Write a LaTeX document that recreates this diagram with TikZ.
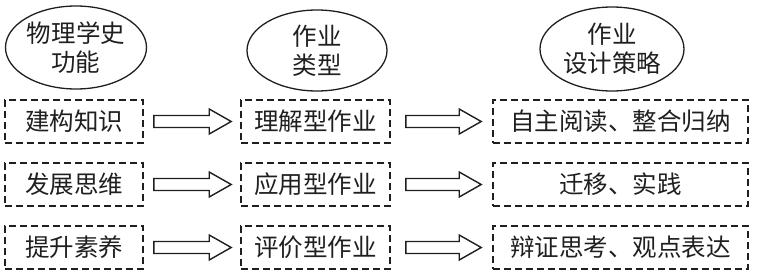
\documentclass[tikz,border=0pt]{standalone}
\usepackage{fontspec}
\newfontfamily\cjk{Noto Sans CJK SC}
\usetikzlibrary{shapes.geometric,calc}
\definecolor{ink}{gray}{0.12}
\tikzset{
  base/.style={font=\cjk\fontsize{24.5}{29}\selectfont, text=ink, inner sep=0pt},
  oval/.style={base, ellipse, draw=ink, line width=1.3pt, align=center},
  dbox/.style={base, draw=ink, line width=1.6pt, dash pattern=on 7pt off 4pt, minimum height=43pt},
  hollow/.style={draw=ink, line width=1.4pt, line join=miter,
    to path={let \p1=(\tikztostart), \p2=(\tikztotarget) in
      (\x1,\y1+6pt) -- (\x2-22pt,\y1+6pt) -- (\x2-22pt,\y1+12.5pt) -- (\x2,\y1)
      -- (\x2-22pt,\y1-12.5pt) -- (\x2-22pt,\y1-6pt) -- (\x1,\y1-6pt) -- cycle}}
}
\begin{document}
\begin{tikzpicture}[x=1pt,y=-1pt]
\useasboundingbox (0,0) rectangle (757,276);
% ellipses
\node[oval, minimum width=141pt, minimum height=83pt] (e1) at (76,47.5) {物理学史\\功能};
\node[oval, minimum width=140pt, minimum height=81pt] (e2) at (317,50.5) {作业\\类型};
\node[oval, minimum width=144pt, minimum height=84pt] (e3) at (612,49) {作业\\设计策略};
% boxes column 1
\node[dbox, minimum width=138pt] (a1) at (74,121.5) {建构知识};
\node[dbox, minimum width=138pt] (a2) at (74,184.5) {发展思维};
\node[dbox, minimum width=138pt] (a3) at (74,247.5) {提升素养};
% boxes column 2
\node[dbox, minimum width=149pt] (b1) at (315.5,121.5) {理解型作业};
\node[dbox, minimum width=149pt] (b2) at (315.5,184.5) {应用型作业};
\node[dbox, minimum width=149pt] (b3) at (315.5,247.5) {评价型作业};
% boxes column 3
\node[dbox, minimum width=255pt] (c1) at (620.5,121.5) {自主阅读、整合归纳};
\node[dbox, minimum width=255pt] (c2) at (620.5,184.5) {迁移、实践};
\node[dbox, minimum width=255pt] (c3) at (620.5,247.5) {辩证思考、观点表达};
% arrows
\foreach \i in {1,2,3}{
  \draw[hollow] ([xshift=10pt]a\i.east) to ([xshift=-9pt]b\i.west);
  \draw[hollow] ([xshift=15pt]b\i.east) to ([xshift=-11pt]c\i.west);
}
\end{tikzpicture}
\end{document}
